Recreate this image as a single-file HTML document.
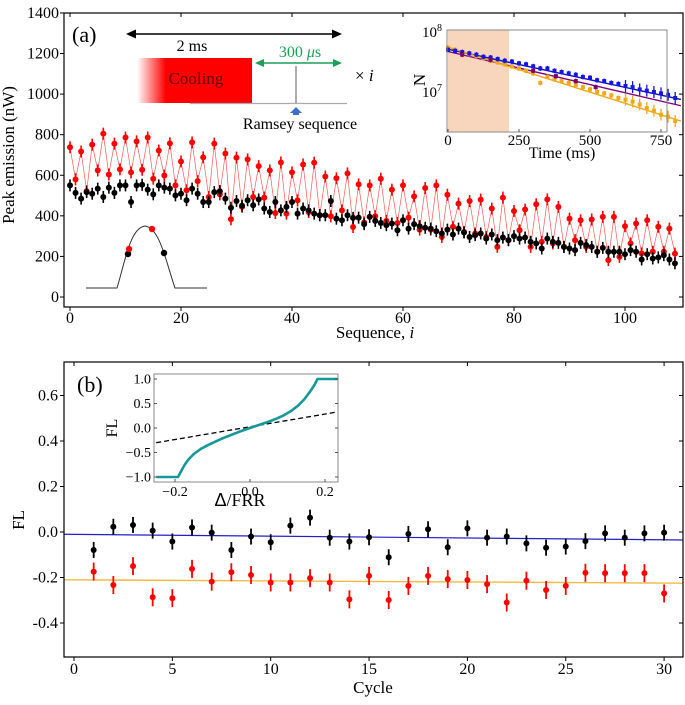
<!DOCTYPE html>
<html><head><meta charset="utf-8"><style>
html,body{margin:0;padding:0;background:#fff;}
svg, svg text{font-family:"Liberation Serif","DejaVu Serif",serif;}
</style></head><body>
<svg id="fig" width="685" height="700" viewBox="0 0 685 700" xmlns="http://www.w3.org/2000/svg" font-family="Liberation Serif, serif">
<defs>
<linearGradient id="coolgrad" x1="0" x2="1" y1="0" y2="0">
<stop offset="0" stop-color="#ff0000" stop-opacity="0"/><stop offset="0.25" stop-color="#ff0000" stop-opacity="1"/><stop offset="1" stop-color="#ff0000"/>
</linearGradient>
</defs>
<g id="pa"></g>
<g id="pb"></g>
</svg>
<script>
// ---------- Panel (a) data ----------
const redPeaks = [738,717,751,805,756,786,767,786,722,757,668,762,688,756,707,687,678,645,624,663,614,653,662,594,585,609,555,
550,583,529,550,496,537,550,504,460,473,480,436,490,424,431,457,481,444,386,378,382,395,395,349,362,378,346,337];
const redTroughs = [580,522,624,604,629,614,627,583,599,550,526,571,493,506,383,444,493,490,414,411,476,419,403,398,427,345,367,398,
375,365,391,332,332,296,346,321,313,296,247,280,329,247,272,264,247,280,247,223,182,198,264,215,223,223,214];
const blackA = [550,513,485,517,509,534,493,539,513,550,550,468,550,553,529,506,550,539,534,501,509,477,534,509,468,468,517,522,485,440,473,450,477,452,481,436,419,468,427,444,468,411,436,427,411,403,403,473,386,378,403,390,391,359,395,375,
365,354,362,329,378,337,359,349,341,337,324,313,332,308,337,318,296,305,313,288,308,280,293,280,300,288,293,272,264,239,288,272,267,247,239,231,267,256,247,223,242,223,223,223,211,231,223,185,211,190,195,206,185,166];
const aYTicks = [0,200,400,600,800,1000,1200,1400];
const aXTicks = [0,20,40,60,80,100];
// inset N(t)
const nTimes = [0,25,50,75,100,125,150,175,200,225,250,275,300,325,350,375,400,425,450,475,500,525,550,575,600,625,650,675,700,725,750,775,800];
const nBlue = [4.8e7,4.6e7,4.4e7,4.2e7,4.0e7,3.7e7,3.6e7,3.4e7,3.2e7,3.1e7,2.9e7,2.8e7,2.6e7,2.4e7,2.4e7,2.2e7,2.1e7,2.0e7,1.9e7,1.75e7,1.7e7,1.55e7,1.5e7,1.4e7,1.35e7,1.25e7,1.2e7,1.1e7,1.05e7,1.0e7,9.5e6,9e6,8e6];
const nOrange = [5.2e7,4.8e7,4.4e7,4.1e7,3.8e7,3.5e7,3.2e7,3.0e7,2.8e7,2.6e7,2.4e7,2.2e7,2.0e7,1.4e7,1.75e7,1.6e7,1.5e7,1.4e7,1.3e7,1.2e7,1.1e7,1.0e7,9.5e6,8.8e6,8e6,7.5e6,7e6,6.3e6,5.5e6,5e6,4.3e6,4e6,3.4e6];
const nPurpleT = [50,150,300,380,450,520];
const nPurple = [4.0e7,3.3e7,2.2e7,1.8e7,1.5e7,1.2e7];
const nInsetXTicks = [0,250,500,750];
// ---------- Panel (b) data ----------
const cycles = [1,2,3,4,5,6,7,8,9,10,11,12,13,14,15,16,17,18,19,20,21,22,23,24,25,26,27,28,29,30];
const flBlack = [-0.079,0.023,0.031,0.006,-0.042,0.02,-0.003,-0.079,-0.02,-0.045,0.028,0.063,-0.025,-0.042,-0.023,-0.111,-0.009,0.012,-0.067,0.016,-0.025,-0.02,-0.05,-0.069,-0.064,-0.04,-0.006,-0.025,-0.006,-0.003];
const flRed = [-0.174,-0.233,-0.15,-0.287,-0.291,-0.162,-0.218,-0.177,-0.189,-0.222,-0.222,-0.203,-0.222,-0.296,-0.193,-0.299,-0.237,-0.193,-0.207,-0.211,-0.229,-0.31,-0.214,-0.255,-0.237,-0.179,-0.181,-0.181,-0.181,-0.27];
const blueFit = [-0.01,-0.035];
const orangeFit = [-0.21,-0.225];
const bYTicks = [-0.4,-0.2,0.0,0.2,0.4,0.6];
const bXTicks = [0,5,10,15,20,25,30];
const insDelta = [-0.25,-0.192,-0.185,-0.175,-0.165,-0.15,-0.13,-0.11,-0.09,-0.07,-0.05,-0.03,0,0.03,0.05,0.07,0.09,0.11,0.13,0.145,0.16,0.172,0.18,0.235];
const insFL = [-1,-1,-0.9,-0.76,-0.65,-0.53,-0.42,-0.34,-0.27,-0.2,-0.14,-0.08,0,0.08,0.13,0.19,0.26,0.35,0.47,0.59,0.74,0.88,1,1];
const insDash = [-0.3,0.33];
const insXTicks = [-0.2,0.0,0.2];
const insYTicks = [-1.0,-0.5,0.0,0.5,1.0];

const NS = "http://www.w3.org/2000/svg";
function el(parent, tag, attrs, text){
  const e = document.createElementNS(NS, tag);
  for (const k in attrs) e.setAttribute(k, attrs[k]);
  if (text !== undefined) e.textContent = text;
  parent.appendChild(e);
  return e;
}
function fmt(v){ return (v<0?"\u2212":"")+Math.abs(v).toFixed(1); }

// ===== Panel A =====
const pa = document.getElementById('pa');
const aL=64, aR=683, aT=13, aB=307;
const ax = v => 70 + v*5.55;
const ay = v => 297 - v*0.2029;
const redG = el(pa,'g',{});


const redVals = [];
for (let i=0;i<110;i++){ redVals.push(i%2===0 ? redPeaks[i/2] : redTroughs[(i-1)/2]); }
let pts = redVals.map((v,i)=>ax(i).toFixed(1)+","+ay(v).toFixed(1)).join(" ");
const rl = el(redG,'polyline',{points:pts,fill:'none',stroke:'#ff3030','stroke-width':0.7,'stroke-opacity':0.8});


const blackG = el(pa,'g',{});


blackA.forEach((v,i)=>{
  el(blackG,'line',{x1:ax(i),x2:ax(i),y1:ay(v)-6,y2:ay(v)+6,stroke:'#000','stroke-width':1.6});
  const c = el(blackG,'circle',{cx:ax(i),cy:ay(v),r:3,fill:'#000'});
  
  
});
redVals.forEach((v,i)=>{
  el(redG,'line',{x1:ax(i),x2:ax(i),y1:ay(v)-6,y2:ay(v)+6,stroke:'#ff0000','stroke-width':1.6});
  const c = el(redG,'circle',{cx:ax(i),cy:ay(v),r:3,fill:'#ff0000'});
  
  
});
const fa = el(pa,'rect',{x:aL,y:aT,width:aR-aL,height:aB-aT,fill:'none',stroke:'#000','stroke-width':1.2});


aYTicks.forEach(v=>{
  el(pa,'line',{x1:aL-4,x2:aL,y1:ay(v),y2:ay(v),stroke:'#000'});
  el(pa,'line',{x1:aR-4,x2:aR,y1:ay(v),y2:ay(v),stroke:'#000'});
  const t = el(pa,'text',{x:aL-5,y:ay(v)+5,'text-anchor':'end','font-size':16},String(v));
  
  
});
aXTicks.forEach(v=>{
  el(pa,'line',{x1:ax(v),x2:ax(v),y1:aB,y2:aB+4,stroke:'#000'});
  el(pa,'line',{x1:ax(v),x2:ax(v),y1:aT,y2:aT+4,stroke:'#000'});
  const t = el(pa,'text',{x:ax(v),y:aB+16,'text-anchor':'middle','font-size':16},String(v));
  
  
});

// static annotations panel A
pa.insertAdjacentHTML('beforeend', `
<text x="14" y="155" font-size="17" text-anchor="middle" transform="rotate(-90 14 155)">Peak emission (nW)</text>
<text x="375" y="338" font-size="17" text-anchor="middle">Sequence, <tspan font-style="italic">i</tspan></text>
<text x="72" y="42" font-size="22">(a)</text>
<g>
<line x1="130" y1="34" x2="338" y2="34" stroke="#000" stroke-width="1.5"/>
<polygon points="126,34 136,29.5 136,38.5" fill="#000"/><polygon points="342,34 332,29.5 332,38.5" fill="#000"/>
<text x="192" y="51" font-size="16" text-anchor="middle">2 ms</text>
<rect x="137" y="58" width="115" height="45" fill="url(#coolgrad)"/>
<text x="196" y="84" font-size="17" text-anchor="middle" fill="#6a0000">Cooling</text>
<line x1="190" y1="103.5" x2="347" y2="103.5" stroke="#aaa" stroke-width="1.2"/>
<line x1="259" y1="63" x2="338" y2="63" stroke="#1f9e55" stroke-width="1.5"/>
<polygon points="255,63 264,59 264,67" fill="#1f9e55"/><polygon points="342,63 333,59 333,67" fill="#1f9e55"/>
<text x="300" y="57" font-size="16" text-anchor="middle" fill="#1f9e55">300 <tspan font-style="italic">μ</tspan>s</text>
<line x1="296" y1="66" x2="296" y2="103" stroke="#777" stroke-width="1.2"/>
<polygon points="290,113 296,107 302,113 299,113 299,115 293,115 293,113" fill="#3b6fc8"/>
<text x="300" y="129" font-size="16" text-anchor="middle">Ramsey sequence</text>
<text x="355" y="81" font-size="17">× <tspan font-style="italic">i</tspan></text>
</g>
<g>
<path d="M86,288 L117,288 C125,262 130,228 145,226 C160,228 166,262 175,288 L207,288" fill="none" stroke="#333" stroke-width="1"/>
<circle cx="128" cy="254" r="3.2" fill="#000"/><circle cx="164" cy="253" r="3.2" fill="#000"/>
<circle cx="129" cy="249" r="3.2" fill="#ff0000"/><circle cx="152" cy="229" r="3.2" fill="#ff0000"/>
</g>`);

// ===== Inset N(t) =====
(function(){
const g = el(pa,'g',{});


const L=447,R=667,T=30,B=132;
const nx = t => 448 + t*0.284;
const ny = v => 92 - (Math.log10(v)-7)*62;
el(g,'rect',{x:L,y:T,width:R-L,height:B-T,fill:'#fff'});
const sh = el(g,'rect',{x:nx(0),y:T,width:nx(215)-nx(0),height:B-T,fill:'#f8d6bd'});


el(g,'line',{x1:nx(0),y1:ny(4.9e7),x2:nx(820),y2:ny(7.6e6),stroke:'#1010c0','stroke-width':1.4});
el(g,'line',{x1:nx(0),y1:ny(4.5e7),x2:nx(820),y2:ny(6.0e6),stroke:'#800080','stroke-width':1.4});
el(g,'line',{x1:nx(0),y1:ny(5.3e7),x2:nx(820),y2:ny(3.4e6),stroke:'#f2a81c','stroke-width':1.4});
function series(ts, vs, col, name){
  ts.forEach((t,i)=>{
    const y=ny(vs[i]); const e = t>600?6:2.5;
    el(g,'line',{x1:nx(t),x2:nx(t),y1:y-e,y2:y+e,stroke:col,'stroke-width':1.3});
    const c = el(g,'rect',{x:nx(t)-2,y:y-2,width:4,height:4,fill:col});
    
    
  });
}
series(nTimes,nOrange,'#f2a81c','orange-point');
series(nTimes,nBlue,'#1515e0','blue-point');
series(nPurpleT,nPurple,'#800060','purple-point');
el(g,'rect',{x:L,y:T,width:R-L,height:B-T,fill:'none',stroke:'#888','stroke-width':1});
nInsetXTicks.forEach(t=>{
  el(g,'line',{x1:nx(t),x2:nx(t),y1:B,y2:B-3,stroke:'#555'});
  const tx = el(g,'text',{x:nx(t),y:B+13,'text-anchor':'middle','font-size':15},String(t));
  
  
});
g.insertAdjacentHTML('beforeend',`
<text x="442" y="37" font-size="15" text-anchor="end">10<tspan font-size="10" dy="-6">8</tspan></text>
<text x="442" y="97" font-size="15" text-anchor="end">10<tspan font-size="10" dy="-6">7</tspan></text>
<text x="562" y="158" font-size="16" text-anchor="middle">Time (ms)</text>
<text x="425" y="80" font-size="17" text-anchor="middle" transform="rotate(-90 425 80)">N</text>`);
})();

// ===== Panel B =====
(function(){
const pb = document.getElementById('pb');
const L=64,R=683,T=362,B=657;
const bx = c => 74 + c*19.67;
const by = v => 532 - v*227.5;
pb.insertAdjacentHTML('beforeend',`
<text x="24" y="520" font-size="17" text-anchor="middle" transform="rotate(-90 24 520)">FL</text>
<text x="373" y="693" font-size="17" text-anchor="middle">Cycle</text>
<text x="77" y="392" font-size="22">(b)</text>`);
const bl = el(pb,'line',{x1:L,y1:by(blueFit[0]),x2:R,y2:by(blueFit[1]),stroke:'#2020c8','stroke-width':1.2});


const ol = el(pb,'line',{x1:L,y1:by(orangeFit[0]),x2:R,y2:by(orangeFit[1]),stroke:'#f5b942','stroke-width':1.4});


cycles.forEach((c,i)=>{
  const y1=by(flBlack[i]);
  el(pb,'line',{x1:bx(c),x2:bx(c),y1:y1-8,y2:y1+8,stroke:'#000','stroke-width':1.8});
  const p=el(pb,'circle',{cx:bx(c),cy:y1,r:3,fill:'#000'});
  
  
  const y2=by(flRed[i]);
  el(pb,'line',{x1:bx(c),x2:bx(c),y1:y2-9,y2:y2+9,stroke:'#ff0000','stroke-width':1.8});
  const q=el(pb,'circle',{cx:bx(c),cy:y2,r:3,fill:'#ff0000'});
  
  
});
const fb = el(pb,'rect',{x:L,y:T,width:R-L,height:B-T,fill:'none',stroke:'#000','stroke-width':1.2});


bYTicks.forEach(v=>{
  el(pb,'line',{x1:L-4,x2:L,y1:by(v),y2:by(v),stroke:'#000'});
  el(pb,'line',{x1:R-4,x2:R,y1:by(v),y2:by(v),stroke:'#000'});
  const t=el(pb,'text',{x:L-6,y:by(v)+5,'text-anchor':'end','font-size':16},(v<0?"-":"")+Math.abs(v).toFixed(1));
  
  
});
bXTicks.forEach(v=>{
  el(pb,'line',{x1:bx(v),x2:bx(v),y1:B,y2:B+4,stroke:'#000'});
  el(pb,'line',{x1:bx(v),x2:bx(v),y1:T,y2:T+4,stroke:'#000'});
  const t=el(pb,'text',{x:bx(v),y:B+17,'text-anchor':'middle','font-size':16},String(v));
  
  
});
const g = el(pb,'g',{});


const iL=154,iR=338,iT=374,iB=482;
const ix = d => 250 + d*375;
const iy = v => 428 - v*49;
el(g,'rect',{x:iL,y:iT,width:iR-iL,height:iB-iT,fill:'#fff'});
const dl = el(g,'line',{x1:ix(-0.25),y1:iy(insDash[0]),x2:ix(0.235),y2:iy(insDash[1]),stroke:'#000','stroke-width':1.3,'stroke-dasharray':'5,3'});


const cl = el(g,'polyline',{points:insDelta.map((d,i)=>ix(d).toFixed(1)+","+iy(insFL[i]).toFixed(1)).join(" "),fill:'none',stroke:'#16989a','stroke-width':2.6,'stroke-linejoin':'round'});


el(g,'rect',{x:iL,y:iT,width:iR-iL,height:iB-iT,fill:'none',stroke:'#888','stroke-width':1});
insYTicks.forEach(v=>{
  el(g,'line',{x1:iL,x2:iL+3,y1:iy(v),y2:iy(v),stroke:'#555'});
  el(g,'line',{x1:iR-3,x2:iR,y1:iy(v),y2:iy(v),stroke:'#555'});
  const t=el(g,'text',{x:iL-3,y:iy(v)+4.5,'text-anchor':'end','font-size':14},fmt(v));
  
  
});
insXTicks.forEach(v=>{
  el(g,'line',{x1:ix(v),x2:ix(v),y1:iB-3,y2:iB,stroke:'#555'});
  const t=el(g,'text',{x:ix(v),y:iB+14,'text-anchor':'middle','font-size':14},fmt(v));
  
  
});
g.insertAdjacentHTML('beforeend',`
<text x="117" y="428" font-size="16" text-anchor="middle" transform="rotate(-90 117 428)">FL</text>
<text x="240" y="506" font-size="18" text-anchor="middle"><tspan font-family="Liberation Sans, sans-serif">Δ</tspan>/FRR</text>`);
})();
</script>
</body></html>
